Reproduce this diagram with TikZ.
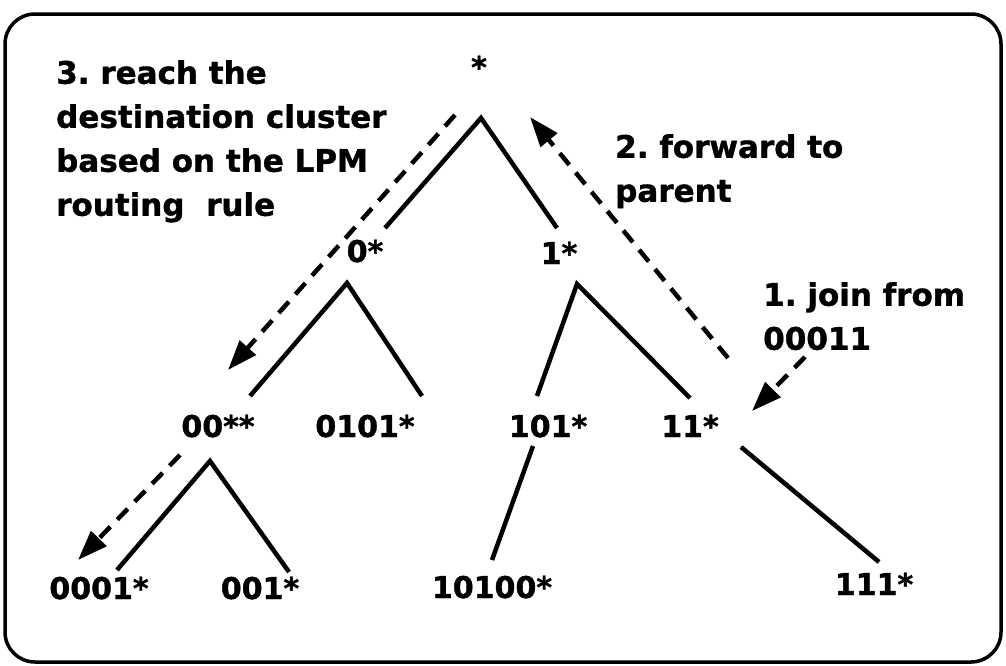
\documentclass[tikz,border=0pt]{standalone}
\usepackage{fontspec}
\setmainfont{DejaVu Sans}[BoldFeatures={FakeBold=1.2}]
\frenchspacing
\usetikzlibrary{arrows.meta}

\begin{document}
\begin{tikzpicture}[x=1pt,y=-1pt,
	lab/.style={font=\fontsize{30}{44}\selectfont\bfseries,inner sep=0pt,anchor=base},
	note/.style={lab,font=\fontsize{31}{44}\selectfont\bfseries,align=left,anchor=north west},
	branch/.style={line width=4.5pt},
	hop/.style={line width=4.5pt,dash pattern=on 15pt off 10pt,-{Triangle[length=30pt,width=21pt]}}]
	%\draw[help lines,step=50] (0,0) grid (1006,665);
	\useasboundingbox (0,0) rectangle (1006,665);
	\draw[line width=3.5pt,rounded corners=30pt] (5,14) rectangle (1001,662);
	% prefixes
	\node[lab] (root) at (479,78) {*};
	\node[lab] (n0) at (365,262) {0*};
	\node[lab] (n1) at (559,264) {1*};
	\node[lab] (n00) at (218,437) {00**};
	\node[lab] (n0101) at (365,437) {0101*};
	\node[lab] (n101) at (548,437) {101*};
	\node[lab] (n11) at (690,437) {11*};
	\node[lab] (n0001) at (99,599) {0001*};
	\node[lab] (n001) at (260,599) {001*};
	\node[lab] (n10100) at (492,598) {10100*};
	\node[lab] (n111) at (874,595) {111*};
	% steps
	\node[note] (step3) at (56,60) {3. reach the\\destination cluster\\based on the LPM\\routing\ \ rule};
	\node[note] (step2) at (615,134) {2. forward to\\parent};
	\node[note] (step1) at (763,282) {1. join from\\00011};
	% tree legs
	\coordinate (root-v) at (481,118);
	\coordinate (n0-v) at (347,283);
	\coordinate (n1-v) at (577,284);
	\coordinate (n00-v) at (210,461);
	\coordinate (n0-up) at (385,228);
	\coordinate (n1-up) at (557,228);
	\coordinate (n00-up) at (250,396);
	\coordinate (n0101-up) at (422,396);
	\coordinate (n101-up) at (537,396);
	\coordinate (n11-up) at (690,398);
	\coordinate (n0001-up) at (117,570);
	\coordinate (n001-up) at (289,572);
	\coordinate (n101-dn) at (533,446);
	\coordinate (n10100-up) at (492,560);
	\coordinate (n11-dn) at (741,447);
	\coordinate (n111-up) at (879,562);
	\draw[branch] (n0-up) -- (root-v) -- (n1-up);
	\draw[branch] (n00-up) -- (n0-v) -- (n0101-up);
	\draw[branch] (n101-up) -- (n1-v) -- (n11-up);
	\draw[branch] (n0001-up) -- (n00-v) -- (n001-up);
	\draw[branch] (n101-dn) -- (n10100-up);
	\draw[branch] (n11-dn) -- (n111-up);
	% message path
	\coordinate (join-src) at (805,357);
	\coordinate (join-tip) at (752,411);
	\coordinate (fwd-src) at (728,358);
	\coordinate (fwd-tip) at (530,117);
	\coordinate (down-src) at (455,115);
	\coordinate (down-tip) at (228,370);
	\coordinate (leaf-src) at (180,455);
	\coordinate (leaf-tip) at (78,560);
	\draw[hop] (join-src) -- (join-tip);
	\draw[hop] (fwd-src) -- (fwd-tip);
	\draw[hop] (down-src) -- (down-tip);
	\draw[hop] (leaf-src) -- (leaf-tip);
\end{tikzpicture}
\end{document}
